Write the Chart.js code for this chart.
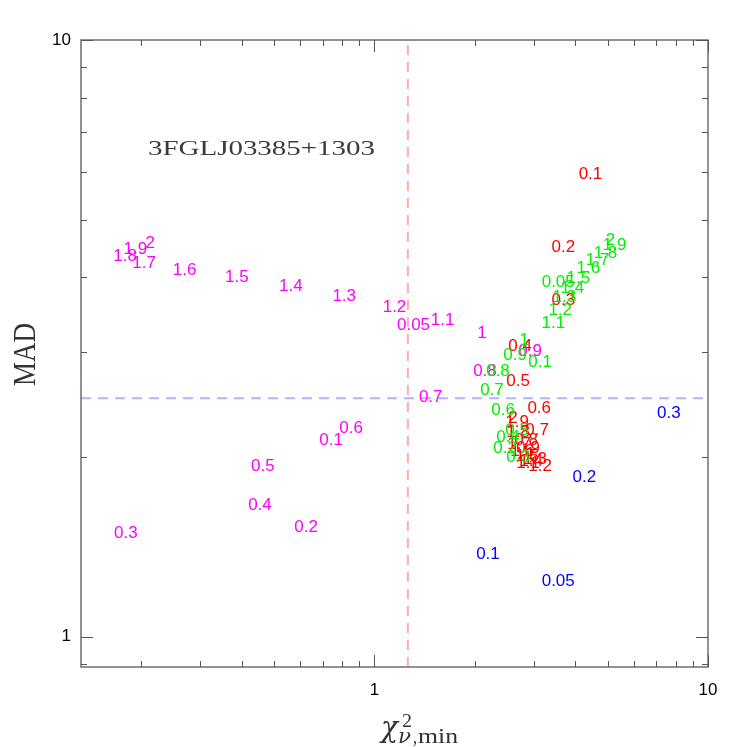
<!DOCTYPE html>
<html>
<head>
<meta charset="utf-8">
<script src="https://cdn.jsdelivr.net/npm/chart.js@4.4.1/dist/chart.umd.min.js"></script>
<style>
  html, body { margin: 0; padding: 0; background: #fff; }
</style>
</head>
<body>
<canvas id="myChart" width="747" height="747"></canvas>
<script>
// data (chi2 min on x, MAD on y), one text mark per level
const levels = ['0.05', '0.1', '0.2', '0.3', '0.4', '0.5', '0.6', '0.7', '0.8', '0.9', '1',
                '1.1', '1.2', '1.3', '1.4', '1.5', '1.6', '1.7', '1.8', '1.9', '2'];

const magentaX = [1.31, 0.742, 0.624, 0.180, 0.454, 0.463, 0.852, 1.475, 2.145, 2.93, 2.10,
                  1.602, 1.149, 0.812, 0.562, 0.387, 0.270, 0.204, 0.179, 0.192, 0.213];
const magentaY = [3.345, 2.143, 1.537, 1.501, 1.673, 1.938, 2.246, 2.532, 2.80, 3.025, 3.243,
                  3.41, 3.586, 3.742, 3.891, 4.027, 4.138, 4.252, 4.369, 4.489, 4.595];

const redX = [null, 4.443, 3.684, 3.684, 2.734, 2.696, 3.119, 3.076, 2.85, 2.89, 2.93,
              2.89, 3.14, 3.033, 2.95, 2.87, 2.772, 2.715, 2.696, 2.677, 2.604];
const redY = [null, 6.00, 4.524, 3.685, 3.083, 2.693, 2.426, 2.228, 2.143, 2.078, 2.030,
              1.961, 1.938, 1.991, 1.976, 2.015, 2.054, 2.110, 2.211, 2.298, 2.333];

const greenX = [3.557, 3.14, 2.464, 2.696, 2.515, 2.677, 2.43, 2.251, 2.347, 2.641, 2.811,
                3.437, 3.607, 3.709, 3.921, 4.087, 4.38, 4.664, 4.929, 5.248, 5.104];
const greenY = [3.952, 2.899, 2.078, 2.007, 2.168, 2.228, 2.407, 2.601, 2.80, 2.978, 3.156,
                3.371, 3.545, 3.728, 3.86, 4.012, 4.171, 4.301, 4.42, 4.559, 4.648];

const blueX = [3.557, 2.19, 4.262, 7.63];
const blueY = [1.247, 1.384, 1.857, 2.379];

// reference lines
const chi2Cut = 1.26;
const madCut = 2.51;

// axes
const xMin = 0.132, xMax = 10;
const yMin = 0.89, yMax = 10;
const majorTicks = [1, 10];
const xMinorTicks = [0.2, 0.3, 0.4, 0.5, 0.6, 0.7, 0.8, 0.9, 2, 3, 4, 5, 6, 7, 8, 9];
const yMinorTicks = [0.9, 2, 3, 4, 5, 6, 7, 8, 9];

const sourceName = '3FGLJ03385+1303';

function toPoints(xs, ys) {
    return xs.map((x, i) => ({ x: x, y: ys[i] }));
}

function markSet(xs, ys, color) {
    return {
        data: toPoints(xs, ys),
        marks: levels,
        textColor: color,
        pointRadius: 0,
        showLine: false
    };
}

const sansFont = '"Liberation Sans", Arial, sans-serif';
const serifFont = '"Liberation Serif", "Times New Roman", serif';
const markSize = 17;

// text drawn squeezed/stretched to a given width (the original font is wide)
function drawFitted(ctx, text, x, y, font, width) {
    ctx.save();
    ctx.font = font;
    let w = ctx.measureText(text).width;
    ctx.translate(x, y);
    ctx.scale(width / w, 1);
    ctx.textAlign = 'left';
    ctx.textBaseline = 'alphabetic';
    ctx.fillText(text, 0, 0);
    ctx.restore();
}

//text marks instead of points
const textMarks = {
    id: 'textMarks',
    afterDatasetsDraw(chart) {
        let ctx = chart.ctx;
        chart.data.datasets.forEach((ds, i) => {
            if (!ds.marks) return;
            let meta = chart.getDatasetMeta(i);
            ctx.save();
            ctx.font = markSize + 'px ' + sansFont;
            ctx.fillStyle = ds.textColor;
            ctx.textAlign = 'center';
            ctx.textBaseline = 'alphabetic';
            meta.data.forEach((pt, j) => {
                if (ds.data[j].x == null || ds.data[j].y == null) return;
                ctx.fillText(ds.marks[j], pt.x, pt.y + markSize * 0.36);
            });
            ctx.restore();
        });
    }
};

//box, inward ticks, titles
const frame = {
    id: 'frame',
    afterDraw(chart) {
        let ctx = chart.ctx;
        let a = chart.chartArea;
        let xs = chart.scales.x, ys = chart.scales.y;
        ctx.save();
        ctx.strokeStyle = '#6e6e6e';
        ctx.lineWidth = 1.5;
        ctx.strokeRect(a.left, a.top, a.right - a.left, a.bottom - a.top);

        ctx.lineWidth = 1;
        ctx.strokeStyle = '#555';
        ctx.beginPath();
        let xTick = (v, len) => {
            let px = Math.round(xs.getPixelForValue(v)) + 0.5;
            ctx.moveTo(px, a.bottom); ctx.lineTo(px, a.bottom - len);
            ctx.moveTo(px, a.top); ctx.lineTo(px, a.top + len);
        };
        let yTick = (v, len) => {
            let py = Math.round(ys.getPixelForValue(v)) + 0.5;
            ctx.moveTo(a.left, py); ctx.lineTo(a.left + len, py);
            ctx.moveTo(a.right, py); ctx.lineTo(a.right - len, py);
        };
        xMinorTicks.forEach(v => xTick(v, 6));
        majorTicks.forEach(v => xTick(v, 12));
        yMinorTicks.forEach(v => yTick(v, 6));
        majorTicks.forEach(v => yTick(v, 12));
        ctx.stroke();

        // source name
        ctx.fillStyle = '#3a3a3a';
        drawFitted(ctx, sourceName, 148, 155, '22px ' + serifFont, 227);

        // y title
        ctx.fillStyle = '#333';
        ctx.save();
        ctx.translate(35, 386);
        ctx.rotate(-Math.PI / 2);
        drawFitted(ctx, 'MAD', 0, 0, '31px ' + serifFont, 63);
        ctx.restore();

        // x title: chi^2_{nu,min}
        drawFitted(ctx, '\u03c7', 381, 737, 'italic 30px "DejaVu Serif", serif', 17);
        drawFitted(ctx, '2', 402, 727, '18px ' + serifFont, 10);
        drawFitted(ctx, '\u03bd', 398, 743, 'italic 21px "DejaVu Serif", serif', 13);
        drawFitted(ctx, ',', 413, 743, '21px ' + serifFont, 4);
        drawFitted(ctx, 'min', 418, 743, '22px ' + serifFont, 40);
        ctx.restore();
    }
};

let canvasElement = document.getElementById('myChart').getContext('2d');
let config = {
    type: 'scatter',
    data: {
        datasets: [
            {
                data: [{ x: chi2Cut, y: yMin }, { x: chi2Cut, y: yMax }],
                showLine: true,
                borderColor: '#ffadad',
                borderWidth: 2,
                borderDash: [10, 7],
                pointRadius: 0
            },
            {
                data: [{ x: xMin, y: madCut }, { x: xMax, y: madCut }],
                showLine: true,
                borderColor: '#b3b3ff',
                borderWidth: 2,
                borderDash: [10, 7],
                pointRadius: 0
            },
            markSet(redX, redY, '#ff0000'),
            markSet(magentaX, magentaY, '#ff00ff'),
            markSet(greenX, greenY, '#00f000'),
            {
                data: toPoints(blueX, blueY),
                marks: levels,
                textColor: '#0000ff',
                pointRadius: 0
            }
        ]
    },
    options: {
        responsive: false,
        animation: false,
        layout: { padding: { top: 40, right: 39, left: 0, bottom: 0 } },
        plugins: { legend: { display: false }, tooltip: { enabled: false } },
        scales: {
            x: {
                type: 'logarithmic',
                min: xMin,
                max: xMax,
                grid: { display: false, drawTicks: false },
                border: { display: false },
                afterBuildTicks: s => { s.ticks = majorTicks.map(v => ({ value: v })); },
                afterFit: s => { s.height = 80; },
                ticks: {
                    autoSkip: false, maxRotation: 0, padding: 13,
                    color: '#000', font: { family: sansFont, size: 17 },
                    callback: v => String(v)
                }
            },
            y: {
                type: 'logarithmic',
                min: yMin,
                max: yMax,
                grid: { display: false, drawTicks: false },
                border: { display: false },
                afterBuildTicks: s => { s.ticks = majorTicks.map(v => ({ value: v })); },
                afterFit: s => { s.width = 81; },
                ticks: {
                    autoSkip: false, padding: 10,
                    color: '#000', font: { family: sansFont, size: 17 },
                    callback: v => String(v)
                }
            }
        }
    },
    plugins: [textMarks, frame]
};

let myChart = new Chart(canvasElement, config);
</script>
</body>
</html>
